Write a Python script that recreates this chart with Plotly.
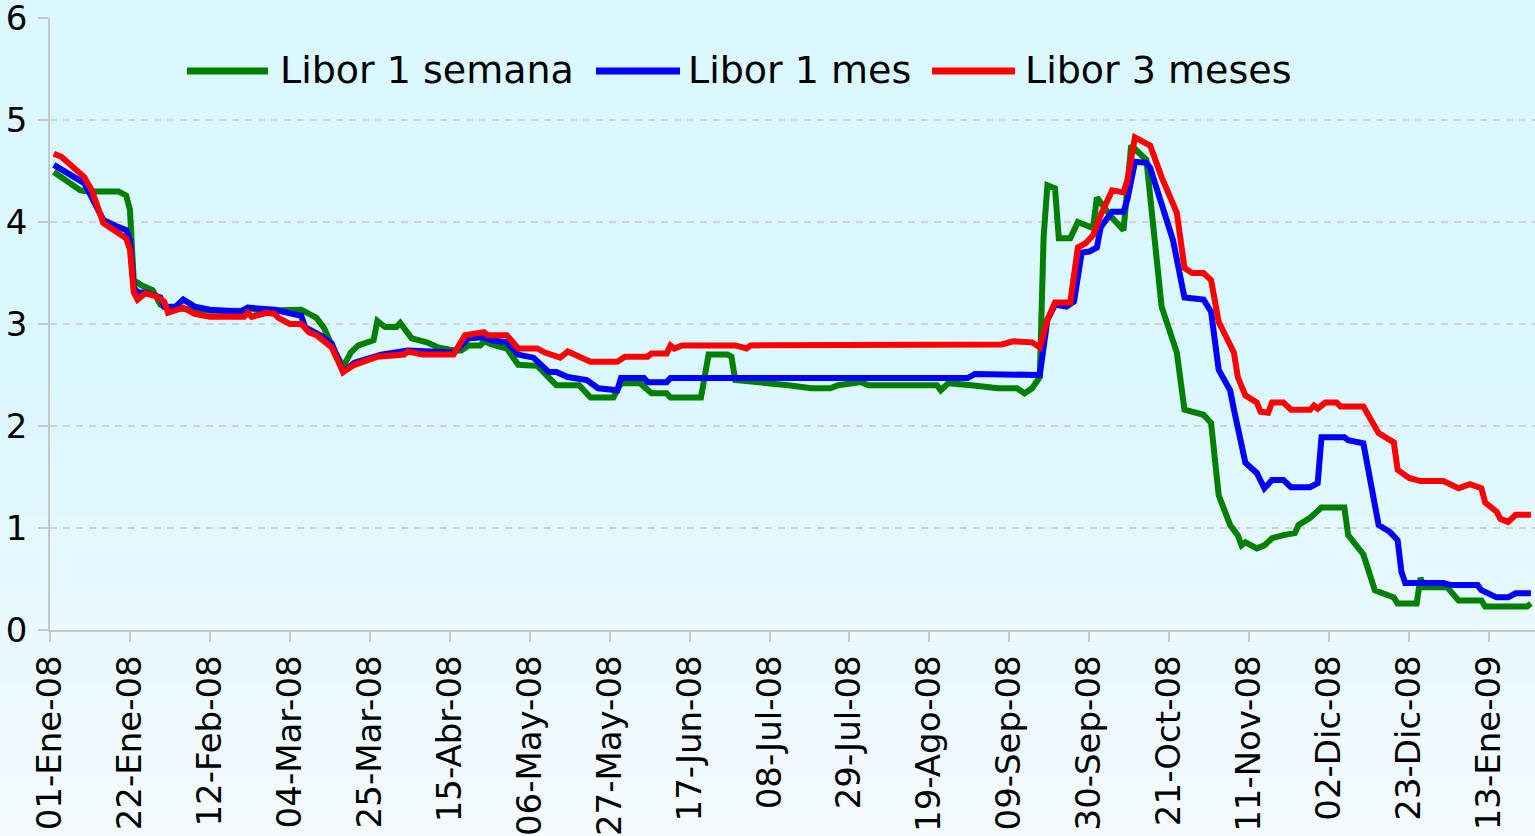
import plotly.graph_objects as go
import pandas as pd

# ---------------- data ----------------
series_names = ["Libor 1 semana", "Libor 1 mes", "Libor 3 meses"]
series_colors = ["#008000", "#0000FF", "#FF0000"]

green_dates = ["2008-01-02","2008-01-09","2008-01-11","2008-01-19","2008-01-21","2008-01-22","2008-01-23","2008-01-25","2008-01-28","2008-01-30",
               "2008-02-01","2008-02-12","2008-02-21","2008-02-22","2008-02-25","2008-03-07","2008-03-11","2008-03-13","2008-03-15","2008-03-18",
               "2008-03-20","2008-03-22","2008-03-26","2008-03-27","2008-03-29","2008-04-01","2008-04-02","2008-04-05","2008-04-09","2008-04-12",
               "2008-04-16","2008-04-18","2008-04-20","2008-04-23","2008-04-24","2008-04-26","2008-04-30","2008-05-03","2008-05-08","2008-05-11",
               "2008-05-13","2008-05-19","2008-05-22","2008-05-28","2008-05-30","2008-06-04","2008-06-06","2008-06-07","2008-06-11","2008-06-12",
               "2008-06-20","2008-06-22","2008-06-27","2008-06-28","2008-06-29","2008-07-06","2008-07-13","2008-07-19","2008-07-24","2008-07-26",
               "2008-07-29","2008-08-01","2008-08-03","2008-08-21","2008-08-22","2008-08-24","2008-08-30","2008-09-06","2008-09-11","2008-09-13",
               "2008-09-15","2008-09-17","2008-09-18","2008-09-19","2008-09-21","2008-09-22","2008-09-25","2008-09-27","2008-10-01","2008-10-02",
               "2008-10-03","2008-10-06","2008-10-09","2008-10-11","2008-10-15","2008-10-17","2008-10-19","2008-10-23","2008-10-25","2008-10-30",
               "2008-11-01","2008-11-03","2008-11-06","2008-11-08","2008-11-09","2008-11-10","2008-11-13","2008-11-15","2008-11-17","2008-11-20",
               "2008-11-23","2008-11-24","2008-11-27","2008-11-30","2008-12-06","2008-12-07","2008-12-11","2008-12-14","2008-12-19","2008-12-20",
               "2008-12-25","2008-12-26","2008-12-27","2009-01-02","2009-01-05","2009-01-11","2009-01-12","2009-01-23","2009-01-24"]
green_vals = [4.49,4.31,4.30,4.30,4.26,4.12,3.43,3.38,3.33,3.19,
              3.16,3.13,3.13,3.16,3.13,3.14,3.06,2.96,2.79,2.58,
              2.72,2.79,2.84,3.03,2.97,2.97,3.01,2.86,2.82,2.77,
              2.74,2.74,2.79,2.79,2.83,2.80,2.76,2.60,2.59,2.47,
              2.40,2.40,2.28,2.28,2.42,2.42,2.35,2.32,2.32,2.28,
              2.28,2.70,2.70,2.68,2.45,2.43,2.40,2.37,2.37,2.40,
              2.42,2.43,2.40,2.40,2.35,2.42,2.40,2.37,2.37,2.32,
              2.37,2.48,3.85,4.36,4.33,3.84,3.84,4.00,3.94,4.24,
              4.19,4.04,3.92,4.75,4.61,3.92,3.17,2.72,2.16,2.11,
              2.03,1.32,1.03,0.93,0.83,0.86,0.80,0.83,0.90,0.93,
              0.95,1.03,1.10,1.20,1.20,0.93,0.74,0.39,0.32,0.26,
              0.26,0.51,0.42,0.42,0.29,0.29,0.23,0.23,0.26]

blue_dates = ["2008-01-02","2008-01-10","2008-01-12","2008-01-15","2008-01-19","2008-01-21","2008-01-22","2008-01-23","2008-01-24","2008-01-26",
              "2008-01-30","2008-01-31","2008-02-03","2008-02-05","2008-02-08","2008-02-12","2008-02-20","2008-02-22","2008-02-29","2008-03-03",
              "2008-03-07","2008-03-08","2008-03-12","2008-03-15","2008-03-18","2008-03-21","2008-03-28","2008-04-04","2008-04-16","2008-04-20",
              "2008-04-24","2008-04-26","2008-04-30","2008-05-03","2008-05-07","2008-05-11","2008-05-13","2008-05-16","2008-05-21","2008-05-24",
              "2008-05-29","2008-05-30","2008-06-05","2008-06-06","2008-06-11","2008-06-12","2008-08-29","2008-08-31","2008-09-17","2008-09-19",
              "2008-09-21","2008-09-24","2008-09-26","2008-09-28","2008-09-30","2008-10-02","2008-10-03","2008-10-06","2008-10-09","2008-10-10",
              "2008-10-12","2008-10-15","2008-10-16","2008-10-22","2008-10-25","2008-10-30","2008-11-01","2008-11-03","2008-11-06","2008-11-07",
              "2008-11-10","2008-11-13","2008-11-15","2008-11-17","2008-11-20","2008-11-22","2008-11-27","2008-11-29","2008-11-30","2008-12-06",
              "2008-12-07","2008-12-11","2008-12-15","2008-12-18","2008-12-20","2008-12-21","2008-12-22","2009-01-01","2009-01-03","2009-01-10",
              "2009-01-11","2009-01-15","2009-01-18","2009-01-20","2009-01-24"]
blue_vals = [4.56,4.38,4.24,4.02,3.95,3.92,3.82,3.36,3.31,3.31,
             3.26,3.17,3.17,3.24,3.17,3.14,3.12,3.16,3.14,3.11,
             3.08,2.97,2.89,2.81,2.53,2.62,2.70,2.74,2.72,2.86,
             2.87,2.84,2.82,2.70,2.67,2.53,2.53,2.48,2.45,2.37,
             2.35,2.47,2.47,2.43,2.43,2.47,2.47,2.51,2.50,3.04,
             3.19,3.17,3.22,3.70,3.71,3.75,3.95,4.10,4.10,4.22,
             4.59,4.58,4.53,3.82,3.26,3.24,3.12,2.55,2.35,2.16,
             1.64,1.54,1.39,1.47,1.47,1.40,1.40,1.44,1.89,1.89,
             1.86,1.83,1.03,0.96,0.88,0.57,0.46,0.46,0.44,0.44,
             0.39,0.32,0.32,0.36,0.36]

red_dates = ["2008-01-02","2008-01-04","2008-01-10","2008-01-12","2008-01-15","2008-01-18","2008-01-21","2008-01-22","2008-01-23","2008-01-24",
             "2008-01-26","2008-01-29","2008-01-31","2008-02-01","2008-02-05","2008-02-08","2008-02-12","2008-02-21","2008-02-22","2008-02-23",
             "2008-02-27","2008-02-29","2008-03-01","2008-03-04","2008-03-07","2008-03-09","2008-03-11","2008-03-15","2008-03-18","2008-03-21",
             "2008-03-27","2008-04-03","2008-04-04","2008-04-08","2008-04-16","2008-04-19","2008-04-24","2008-04-25","2008-04-30","2008-05-03",
             "2008-05-08","2008-05-10","2008-05-14","2008-05-16","2008-05-19","2008-05-22","2008-05-29","2008-05-31","2008-06-06","2008-06-07",
             "2008-06-11","2008-06-12","2008-06-13","2008-06-15","2008-06-29","2008-07-02","2008-07-03","2008-09-07","2008-09-10","2008-09-15",
             "2008-09-17","2008-09-19","2008-09-21","2008-09-25","2008-09-27","2008-09-29","2008-10-01","2008-10-03","2008-10-06","2008-10-09",
             "2008-10-10","2008-10-12","2008-10-16","2008-10-18","2008-10-19","2008-10-23","2008-10-25","2008-10-27","2008-10-30","2008-11-01",
             "2008-11-03","2008-11-05","2008-11-07","2008-11-08","2008-11-10","2008-11-13","2008-11-14","2008-11-16","2008-11-17","2008-11-20",
             "2008-11-22","2008-11-27","2008-11-28","2008-11-29","2008-12-01","2008-12-04","2008-12-05","2008-12-11","2008-12-13","2008-12-15",
             "2008-12-19","2008-12-20","2008-12-23","2008-12-26","2009-01-01","2009-01-03","2009-01-05","2009-01-08","2009-01-11","2009-01-12",
             "2009-01-15","2009-01-16","2009-01-18","2009-01-20","2009-01-24"]
red_vals = [4.67,4.64,4.44,4.31,3.99,3.92,3.84,3.73,3.31,3.24,
            3.30,3.27,3.22,3.11,3.16,3.10,3.07,3.07,3.11,3.07,
            3.11,3.10,3.06,3.00,3.00,2.92,2.89,2.77,2.53,2.60,
            2.68,2.70,2.73,2.70,2.70,2.89,2.92,2.89,2.89,2.76,
            2.76,2.72,2.67,2.73,2.68,2.63,2.63,2.68,2.68,2.71,
            2.71,2.79,2.76,2.79,2.79,2.76,2.79,2.80,2.83,2.82,
            2.77,3.04,3.21,3.21,3.75,3.79,3.87,4.07,4.31,4.29,
            4.41,4.83,4.75,4.54,4.44,4.09,3.55,3.50,3.50,3.43,
            3.02,2.87,2.72,2.48,2.30,2.23,2.14,2.13,2.23,2.23,
            2.16,2.16,2.20,2.17,2.23,2.23,2.19,2.19,2.06,1.93,
            1.84,1.57,1.49,1.46,1.46,1.42,1.39,1.43,1.39,1.25,
            1.16,1.09,1.06,1.13,1.13]

tick_dates = ["2008-01-01","2008-01-22","2008-02-12","2008-03-04","2008-03-25","2008-04-15","2008-05-06","2008-05-27",
              "2008-06-17","2008-07-08","2008-07-29","2008-08-19","2008-09-09","2008-09-30","2008-10-21","2008-11-11",
              "2008-12-02","2008-12-23","2009-01-13"]
tick_labels = ["01-Ene-08","22-Ene-08","12-Feb-08","04-Mar-08","25-Mar-08","15-Abr-08","06-May-08","27-May-08",
               "17-Jun-08","08-Jul-08","29-Jul-08","19-Ago-08","09-Sep-08","30-Sep-08","21-Oct-08","11-Nov-08",
               "02-Dic-08","23-Dic-08","13-Ene-09"]
y_ticks = [0, 1, 2, 3, 4, 5, 6]

assert len(green_dates) == len(green_vals)
assert len(blue_dates) == len(blue_vals)
assert len(red_dates) == len(red_vals)

# ---------------- figure ----------------
W, H = 1535, 836
ML, MR, MT, MB = 50, 0, 18, 206
PW, PH = W - ML - MR, H - MT - MB

def px_x(px):
    return (px - ML) / PW

def px_y(py):
    return (H - MB - py) / PH

FONT = "DejaVu Sans"

fig = go.Figure()
all_dates = [green_dates, blue_dates, red_dates]
all_vals = [green_vals, blue_vals, red_vals]
for name, col, d, v in zip(series_names, series_colors, all_dates, all_vals):
    fig.add_trace(go.Scatter(
        x=pd.to_datetime(d), y=v, mode="lines", name=name,
        line=dict(color=col, width=6, shape="linear"),
        showlegend=False, hoverinfo="x+y+name"))

shapes = []
# background gradient (light cyan to near white)
top = (219, 247, 255)
bot = (244, 250, 254)
g_start, g_end, nb = 380, H, 60
shapes.append(dict(type="rect", xref="paper", yref="paper", layer="below",
                   x0=px_x(0), x1=px_x(W), y0=px_y(g_start), y1=px_y(0),
                   fillcolor="rgb(%d,%d,%d)" % top, line=dict(width=0)))
for i in range(nb):
    t = (i + 0.5) / nb
    c = tuple(round(top[k] + (bot[k] - top[k]) * t) for k in range(3))
    y0p = g_start + (g_end - g_start) * i / nb
    y1p = g_start + (g_end - g_start) * (i + 1) / nb
    shapes.append(dict(type="rect", xref="paper", yref="paper", layer="below",
                       x0=px_x(0), x1=px_x(W), y0=px_y(y1p + 0.5), y1=px_y(y0p),
                       fillcolor="rgb(%d,%d,%d)" % c, line=dict(width=0)))

# manual legend
legend_lines = [(187, 268), (596, 680), (932, 1015)]
legend_text_x = [278, 686, 1023]
legend_y = 71
annotations = []
for (x0, x1), tx, name, col in zip(legend_lines, legend_text_x, series_names, series_colors):
    shapes.append(dict(type="line", xref="paper", yref="paper", layer="above",
                       x0=px_x(x0), x1=px_x(x1), y0=px_y(legend_y), y1=px_y(legend_y),
                       line=dict(color=col, width=7)))
    annotations.append(dict(text=name, xref="paper", yref="paper", x=px_x(tx), y=px_y(legend_y - 1),
                            xanchor="left", yanchor="middle", showarrow=False,
                            font=dict(family=FONT, size=38, color="black")))

fig.update_layout(
    width=W, height=H,
    margin=dict(l=ML, r=MR, t=MT, b=MB, pad=0),
    paper_bgcolor="rgb(%d,%d,%d)" % top,
    plot_bgcolor="rgba(0,0,0,0)",
    showlegend=False,
    shapes=shapes,
    annotations=annotations,
    font=dict(family=FONT, color="black"),
    xaxis=dict(
        type="date",
        range=["2008-01-01", "2009-01-25 02:00"],
        tickmode="array", tickvals=tick_dates, ticktext=tick_labels,
        tickangle=-90, tickfont=dict(family=FONT, size=34, color="black"),
        ticks="outside", ticklen=10, tickcolor="#c8c8c8", tickwidth=1.5,
        showline=True, linecolor="#c8c8c8", linewidth=1.5,
        showgrid=False, zeroline=False, automargin=False,
        ticklabelstandoff=0, ticklabeloverflow="allow",
    ),
    yaxis=dict(
        range=[0, 6], tickmode="array", tickvals=y_ticks,
        tickfont=dict(family=FONT, size=34, color="black"),
        ticks="outside", ticklen=10, tickcolor="#c8c8c8", tickwidth=1.5,
        showline=True, linecolor="#c8c8c8", linewidth=1.5,
        showgrid=True, gridcolor="#d2d2d2", gridwidth=1.5, griddash="7px,6px",
        zeroline=False, automargin=False,
        ticklabelstandoff=4, ticklabeloverflow="allow",
    ),
)

fig.write_html("out.html",
               config={"displayModeBar": False},
               post_script="document.body.style.margin='0';document.body.style.overflow='hidden';")
